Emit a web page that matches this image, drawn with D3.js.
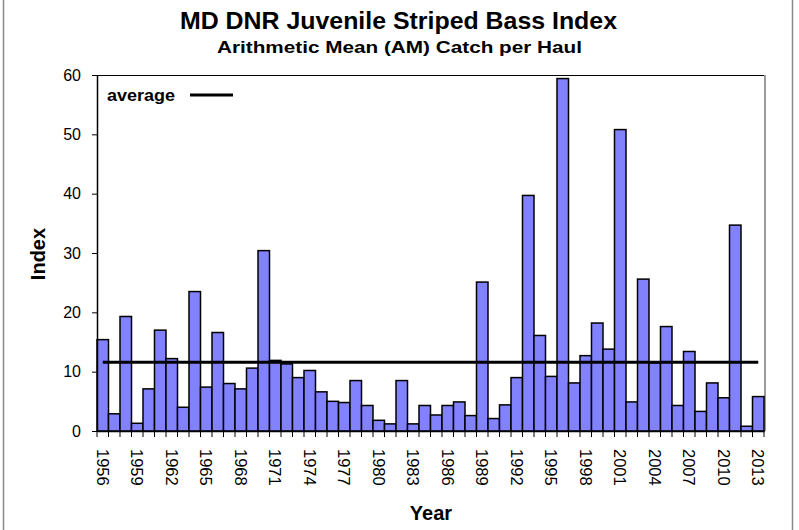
<!DOCTYPE html>
<html>
<head>
<meta charset="utf-8">
<script src="https://cdn.jsdelivr.net/npm/d3@7"></script>
<style>
  body { margin: 0; background: #fff; }
  svg { display: block; font-family: "Liberation Sans", Arial, sans-serif; }
</style>
</head>
<body>
<script>
// Données
const years = d3.range(1956, 2014);
const index = [
  15.4, 2.9, 19.3, 1.3, 7.1, 17.0, 12.2, 4.0, 23.5, 7.4,
  16.6, 8.0, 7.1, 10.6, 30.4, 11.9, 11.3, 9.0, 10.2, 6.6,
  5.0, 4.8, 8.5, 4.3, 1.8, 1.2, 8.5, 1.2, 4.3, 2.7,
  4.3, 4.9, 2.6, 25.1, 2.1, 4.4, 9.0, 39.7, 16.1, 9.2,
  59.4, 8.1, 12.7, 18.2, 13.8, 50.8, 4.9, 25.6, 11.5, 17.6,
  4.3, 13.4, 3.3, 8.1, 5.6, 34.7, 0.8, 5.8
];
const average = 11.6;
const yTicks = [0, 10, 20, 30, 40, 50, 60];

const width = 799;
const height = 530;
const margin = { top: 75, right: 35, bottom: 99, left: 97 };

const svg = d3
  .select("body")
  .append("svg")
  .attr("width", width)
  .attr("height", height);

// cadre extérieur
svg
  .append("rect")
  .attr("x", 3.5)
  .attr("y", -1)
  .attr("width", 789)
  .attr("height", height + 2)
  .attr("fill", "none")
  .attr("stroke", "#8a8a8a")
  .attr("stroke-width", 1.5);

const xScale = d3
  .scaleBand()
  .domain(years)
  .range([margin.left, width - margin.right])
  .padding(0);

const yScale = d3
  .scaleLinear()
  .domain([0, 60])
  .range([height - margin.bottom, margin.top]);

// bordure du graphique
svg
  .append("line")
  .attr("x1", margin.left)
  .attr("x2", width - margin.right)
  .attr("y1", margin.top + 0.5)
  .attr("y2", margin.top + 0.5)
  .attr("stroke", "#000")
  .attr("stroke-width", 1);
svg
  .append("line")
  .attr("x1", width - margin.right + 1)
  .attr("x2", width - margin.right + 1)
  .attr("y1", margin.top)
  .attr("y2", height - margin.bottom)
  .attr("stroke", "#9a9a9a")
  .attr("stroke-width", 2);

// barres
svg
  .append("g")
  .selectAll("rect")
  .data(index)
  .join("rect")
  .attr("x", (d, i) => xScale(years[i]))
  .attr("y", (d) => yScale(d))
  .attr("width", xScale.bandwidth())
  .attr("height", (d) => yScale(0) - yScale(d))
  .attr("fill", "#8282ff")
  .attr("stroke", "#000")
  .attr("stroke-width", 1.5);

// ligne de moyenne
svg
  .append("line")
  .attr("x1", xScale(years[0]) + xScale.bandwidth() / 2)
  .attr("x2", xScale(years[years.length - 1]) + xScale.bandwidth() / 2)
  .attr("y1", yScale(average))
  .attr("y2", yScale(average))
  .attr("stroke", "#000")
  .attr("stroke-width", 3);

// axe Y
const yAxis = svg
  .append("g")
  .attr("transform", `translate(${margin.left},0)`)
  .call(d3.axisLeft(yScale).tickValues(yTicks).tickSize(5).tickPadding(11).tickSizeOuter(0));
yAxis.select(".domain").attr("stroke-width", 1.5);
yAxis.selectAll("text").attr("font-size", "16px").attr("fill", "#000").attr("font-family", "Liberation Sans, Arial");

// axe X
const xAxis = svg
  .append("g")
  .attr("transform", `translate(0,${height - margin.bottom})`)
  .call(d3.axisBottom(xScale).tickSize(0).tickFormat(""));
xAxis.select(".domain").attr("stroke-width", 1.5);

svg
  .append("g")
  .selectAll("line")
  .data(years.concat([null]))
  .join("line")
  .attr("x1", (d, i) => (d === null ? width - margin.right : xScale(d)))
  .attr("x2", (d, i) => (d === null ? width - margin.right : xScale(d)))
  .attr("y1", height - margin.bottom)
  .attr("y2", height - margin.bottom + 6)
  .attr("stroke", "#000")
  .attr("stroke-width", 1);

svg
  .append("g")
  .selectAll("text")
  .data(years.filter((y) => (y - 1956) % 3 === 0))
  .join("text")
  .attr("transform", (d) => `translate(${xScale(d) + xScale.bandwidth() / 2},${height - margin.bottom + 18}) rotate(90)`)
  .attr("dy", "0.35em")
  .attr("font-size", "16.5px")
  .text((d) => d);

// titres
svg
  .append("text")
  .attr("x", 180)
  .attr("y", 29)
  .attr("font-size", "23px")
  .attr("font-weight", "bold")
  .attr("textLength", 437)
  .attr("lengthAdjust", "spacingAndGlyphs")
  .text("MD DNR Juvenile Striped Bass Index");

svg
  .append("text")
  .attr("x", 217)
  .attr("y", 53)
  .attr("font-size", "17px")
  .attr("font-weight", "bold")
  .attr("textLength", 365)
  .attr("lengthAdjust", "spacingAndGlyphs")
  .text("Arithmetic Mean (AM) Catch per Haul");

svg
  .append("text")
  .attr("x", 431)
  .attr("y", 520)
  .attr("text-anchor", "middle")
  .attr("font-size", "20px")
  .attr("font-weight", "bold")
  .text("Year");

svg
  .append("text")
  .attr("transform", "translate(45,254) rotate(-90)")
  .attr("text-anchor", "middle")
  .attr("font-size", "20px")
  .attr("font-weight", "bold")
  .text("Index");

// légende
svg
  .append("text")
  .attr("x", 107)
  .attr("y", 101)
  .attr("font-size", "17px")
  .attr("font-weight", "bold")
  .attr("textLength", 68)
  .attr("lengthAdjust", "spacingAndGlyphs")
  .text("average");
svg
  .append("line")
  .attr("x1", 190)
  .attr("x2", 233)
  .attr("y1", 95)
  .attr("y2", 95)
  .attr("stroke", "#000")
  .attr("stroke-width", 3);
</script>
</body>
</html>
